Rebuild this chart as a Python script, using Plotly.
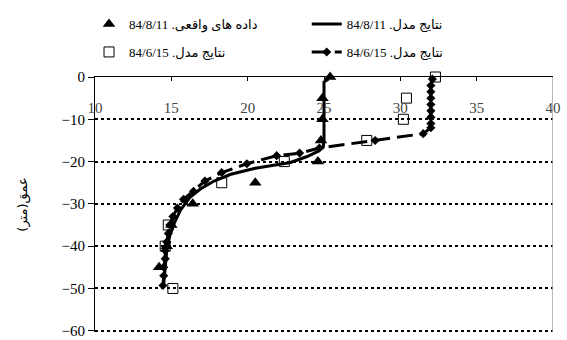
import plotly.graph_objects as go

# Model results, 84/8/11 (solid curve)
model_0811_x = [25.3, 25.0, 25.0, 24.95, 24.6, 23.9, 22.8, 22.1, 20.5, 18.9, 17.8,
                16.9, 16.2, 15.6, 15.2, 14.9, 14.7, 14.6, 14.5]
model_0811_y = [-0.5, -1.2, -15.0, -16.6, -17.6, -18.8, -20.2, -20.6, -21.6, -23.0, -24.6,
                -26.5, -28.5, -31.5, -34.5, -37.5, -41.0, -45.0, -49.0]

# Model results, 84/6/15 (dashed curve with diamonds)
model_0615_x = [32.1, 32.0, 32.0, 32.0, 32.0, 32.0, 32.0, 32.0, 32.0, 31.5, 28.35,
                24.7, 23.4, 21.9, 19.95, 18.3, 17.2, 16.45, 15.8, 15.4, 15.1, 14.9,
                14.8, 14.7, 14.6, 14.6, 14.5, 14.5, 14.45]
model_0615_y = [-0.5, -2.0, -3.5, -5.0, -6.5, -8.0, -9.5, -11.0, -12.0, -13.4, -15.0,
                -16.8, -18.0, -18.6, -20.5, -22.6, -24.6, -27.0, -28.9, -31.0, -33.0, -35.0,
                -37.0, -39.0, -41.0, -43.0, -45.0, -47.0, -49.3]

# Measured data, 84/8/11 (triangles)
obs_0811_x = [25.4, 24.9, 24.9, 24.8, 24.6, 20.5, 16.4, 15.0, 14.7, 14.2]
obs_0811_y = [0, -5, -10, -15, -20, -25, -30, -35, -40, -45]

# Model results, 84/6/15 at sampled depths (open squares)
pts_0615_x = [32.3, 30.4, 30.2, 27.8, 22.4, 18.3, 14.8, 14.6, 15.1]
pts_0615_y = [0, -5, -10, -15, -20, -25, -35, -40, -50]

x_ticks = [10, 15, 20, 25, 30, 35, 40]
y_ticks = [0, -10, -20, -30, -40, -50, -60]

RLE, PDF = "\u202b", "\u202c"
name_model_0811 = RLE + "نتایج مدل. 84/8/11" + PDF
name_model_0615 = RLE + "نتایج مدل. 84/6/15" + PDF
name_obs_0811 = RLE + "داده های واقعی. 84/8/11" + PDF
name_pts_0615 = RLE + "نتایج مدل. 84/6/15" + PDF
y_title = RLE + "عمق(متر)" + PDF

SERIF = "Liberation Serif, DejaVu Serif, DejaVu Sans, serif"

fig = go.Figure()

fig.add_trace(go.Scatter(
    x=model_0811_x, y=model_0811_y, mode="lines", name=name_model_0811,
    line=dict(color="black", width=3), legend="legend2",
))
fig.add_trace(go.Scatter(
    x=model_0615_x, y=model_0615_y, mode="lines+markers", name=name_model_0615,
    line=dict(color="black", width=3, dash="16px,7px"),
    marker=dict(symbol="diamond", size=7, color="black"),
    legend="legend4", cliponaxis=False,
))
fig.add_trace(go.Scatter(
    x=pts_0615_x, y=pts_0615_y, mode="markers", name=name_pts_0615,
    marker=dict(symbol="square-open", size=10, color="black", line=dict(width=1)),
    legend="legend3", cliponaxis=False,
))
fig.add_trace(go.Scatter(
    x=obs_0811_x, y=obs_0811_y, mode="markers", name=name_obs_0811,
    marker=dict(symbol="triangle-up", size=11, color="black"),
    legend="legend", cliponaxis=False,
))

# right-hand frame line
fig.add_shape(type="line", xref="x", yref="paper", x0=40, x1=40, y0=0, y1=1,
              line=dict(color="#a0a0a0", width=1.5))


def legend_box(x, y):
    return dict(
        x=x, y=y, orientation="h", xref="container", yref="container",
        xanchor="left", yanchor="middle",
        font=dict(family=SERIF, size=13, color="black"),
        bgcolor="rgba(0,0,0,0)", itemclick=False, itemdoubleclick=False,
    )


fig.update_layout(
    width=567, height=340, autosize=False,
    margin=dict(l=95, r=14, t=77, b=8, autoexpand=False),
    paper_bgcolor="white", plot_bgcolor="white",
    font=dict(family=SERIF, size=15, color="black"),
    showlegend=True,
    legend=legend_box(0.157, 1 - 24 / 340),
    legend2=legend_box(0.541, 1 - 24 / 340),
    legend3=legend_box(0.157, 1 - 52 / 340),
    legend4=legend_box(0.541, 1 - 52 / 340),
    xaxis=dict(
        range=[10, 40], side="top", tickvals=x_ticks, automargin=False,
        showline=True, linecolor="black", linewidth=1,
        ticks="inside", ticklen=4, tickcolor="black",
        ticklabelposition="inside", ticklabelstandoff=21, ticklabeloverflow="allow",
        showgrid=False, zeroline=False,
        tickfont=dict(family=SERIF, size=15),
    ),
    yaxis=dict(
        range=[-60.3, 0], tickvals=y_ticks, automargin=False,
        showline=True, linecolor="black", linewidth=1,
        ticks="outside", ticklen=6, tickcolor="black",
        showgrid=True, gridcolor="black", gridwidth=2, griddash="3px,3px",
        zeroline=False,
        tickfont=dict(family=SERIF, size=15),
        title=dict(text=y_title, font=dict(family="DejaVu Sans", size=13), standoff=30),
    ),
)

fig.write_html("out.html")
